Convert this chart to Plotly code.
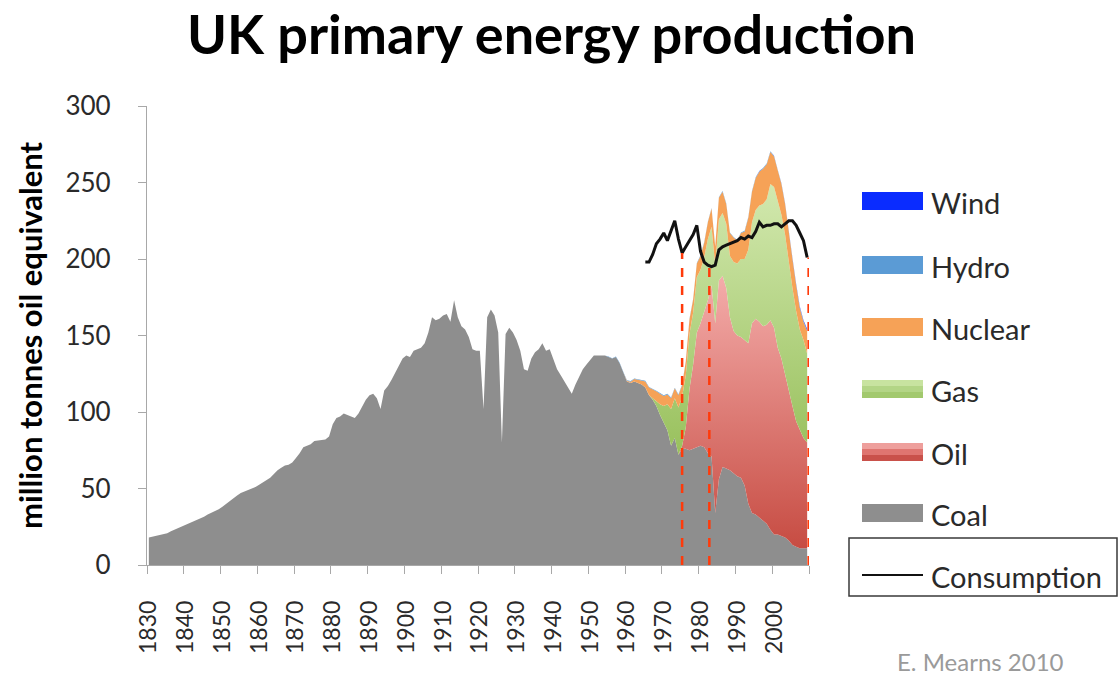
import plotly.graph_objects as go

# ---------------- data ----------------
years = list(range(1830, 2010))

coal = [
    18, 18.5, 19, 19.5, 20, 20.7, 22, 23, 24, 25.5,            # 1830s
    26.5, 27, 28, 29, 30.5, 31.5, 33, 34, 35, 36.5,            # 1840s
    38, 40, 41.5, 43.5, 45.5, 47, 48, 48.5, 50, 51,            # 1850s
    52.5, 54, 55, 57, 59.5, 62, 63.5, 65, 65.5, 67,            # 1860s
    70, 73, 77, 78, 79, 81, 81.5, 82, 82, 84,                  # 1870s
    92, 96, 97, 99, 98, 97, 96, 99, 104, 108,                  # 1880s
    111, 112, 109, 102, 114, 117, 121, 126, 130, 135,          # 1890s
    137, 136, 140, 141, 142, 145, 152, 162, 160, 161,          # 1900s
    163, 164, 159, 173, 162, 156, 154, 149, 141, 140,          # 1910s
    140, 102, 162, 167, 163, 152, 80, 151, 155, 152,           # 1920s
    147, 140, 128, 127, 135, 139, 141, 145, 140, 141,          # 1930s
    134, 128, 124, 120, 116, 112, 118, 123, 128, 131,          # 1940s
    134, 137, 137, 137, 137, 136, 135, 136, 132, 126,          # 1950s
    120, 119, 120, 119, 118, 116, 111, 108, 104, 98,           # 1960s
    93, 88, 78, 83, 72, 76, 76, 75, 76, 77,                    # 1970s
    78, 77, 73, 71, 34, 56, 64, 63, 62, 60,                    # 1980s
    58, 57, 52, 40, 34, 33, 31, 29, 27, 23,                    # 1990s
    20, 20, 19, 18, 16, 13, 12, 11, 11, 11,                    # 2000s
]

oil_years = list(range(1975, 2010))
oil = [2, 14, 40, 55, 75, 80, 88, 100, 112, 124,
       130, 125, 118, 100, 93, 92, 92, 95, 105, 124,
       128, 128, 127, 130, 137, 135, 122, 116, 106, 97,
       91, 82, 77, 72, 69]

gas_years = list(range(1967, 2010))
gas = [1, 3, 7, 11, 17, 24, 26, 31, 32, 34,
       36, 34, 36, 35, 36, 40, 38, 38, 40, 41,
       42, 40, 45, 47, 51, 53, 61, 66, 71, 76,
       80, 82, 89, 92, 95, 94, 92, 85, 77, 72,
       66, 64, 58]

nuclear_years = list(range(1960, 2010))
nuclear = [0.5, 0.8, 1.5, 2, 2.5, 4, 5, 6, 6.5, 7,
           6.5, 6.5, 7, 6.5, 8, 7.5, 9, 9.5, 8.5, 9,
           9, 9.5, 11, 12, 12, 14, 14, 13, 15, 16,
           15, 17, 18, 21, 20, 21, 22, 23, 23, 21,
           20, 21, 20, 20, 18, 19, 17, 14, 12, 15]

hydro_years = list(range(1955, 2010))
hydro = [0.2, 0.2, 0.3, 0.3, 0.3,
         0.3, 0.4, 0.4, 0.4, 0.4, 0.4, 0.4, 0.4, 0.4, 0.4,
         0.4, 0.4, 0.4, 0.4, 0.4, 0.4, 0.4, 0.4, 0.4, 0.4,
         0.4, 0.4, 0.4, 0.4, 0.4, 0.4, 0.4, 0.4, 0.4, 0.4,
         0.4, 0.4, 0.4, 0.4, 0.4, 0.4, 0.4, 0.4, 0.4, 0.4,
         0.4, 0.3, 0.4, 0.3, 0.4, 0.4, 0.4, 0.4, 0.4, 0.4]

wind_years = list(range(1990, 2010))
wind = [0.0, 0.0, 0.0, 0.0, 0.1, 0.1, 0.1, 0.1, 0.1, 0.1,
        0.1, 0.1, 0.1, 0.1, 0.2, 0.3, 0.4, 0.5, 0.6, 0.8]

cons_years = list(range(1965, 2010))
consumption = [198, 198, 203, 210, 213, 217, 212, 218, 225, 213,
               204, 208, 212, 216, 222, 205, 198, 196, 195, 196,
               206, 208, 209, 210, 211, 212, 214, 213, 215, 214,
               218, 224, 221, 222, 222, 223, 223, 221, 223, 225,
               225, 222, 217, 212, 201]

marker_years = [1975, 1982.4, 2009.4]
marker_tops = [204, 196, 201]

label_years = list(range(1830, 2001, 10))
boundary_ticks = [y - 0.5 for y in range(1830, 2011, 10)]
y_ticks = [0, 50, 100, 150, 200, 250, 300]

legend_names = ["Wind", "Hydro", "Nuclear", "Gas", "Oil", "Coal"]
legend_colors = ["#0a2cff", "#5b9bd5", "#f6a257", "#a9cf74", "#e07a74", "#8e8e8e"]

# ---------------- figure ----------------
FONT = "Lato"
fig = go.Figure()

fig.add_trace(go.Scatter(x=years, y=coal, stackgroup="prod", mode="lines",
                         line=dict(width=0), fillcolor="#8e8e8e", name="Coal",
                         showlegend=False))
fig.add_trace(go.Scatter(x=oil_years, y=oil, stackgroup="prod", mode="lines",
                         line=dict(width=0), name="Oil", showlegend=False,
                         fillgradient=dict(type="vertical", start=0, stop=190,
                                           colorscale=[[0, "#c4463c"], [1, "#f4adab"]])))
fig.add_trace(go.Scatter(x=gas_years, y=gas, stackgroup="prod", mode="lines",
                         line=dict(width=0), name="Gas", showlegend=False,
                         fillgradient=dict(type="vertical", start=70, stop=260,
                                           colorscale=[[0, "#98c05c"], [1, "#d6ebb4"]])))
fig.add_trace(go.Scatter(x=nuclear_years, y=nuclear, stackgroup="prod", mode="lines",
                         line=dict(width=0), fillcolor="#f6a257", name="Nuclear",
                         showlegend=False))
fig.add_trace(go.Scatter(x=hydro_years, y=hydro, stackgroup="prod", mode="lines",
                         line=dict(width=0), fillcolor="#5b9bd5", name="Hydro",
                         showlegend=False))
fig.add_trace(go.Scatter(x=wind_years, y=wind, stackgroup="prod", mode="lines",
                         line=dict(width=0), fillcolor="#0a2cff", name="Wind",
                         showlegend=False))
fig.add_trace(go.Scatter(x=cons_years, y=consumption, mode="lines",
                         line=dict(color="#111111", width=3), name="Consumption",
                         showlegend=False))

# red dashed markers
for yr, top in zip(marker_years, marker_tops):
    fig.add_shape(type="line", xref="x", yref="y", x0=yr, x1=yr, y0=0, y1=top,
                  line=dict(color="#ff3a0a", width=2.5, dash="dash"))

# ---------------- layout ----------------
L, R, T, B = 147, 809, 106, 565
W, H = 1120, 675


def px_x(px):
    return (px - L) / (R - L)


def px_y(py):
    return (B - py) / (B - T)


fig.update_layout(
    width=W, height=H,
    margin=dict(l=L, r=W - R, t=T, b=H - B),
    paper_bgcolor="white", plot_bgcolor="white",
    font=dict(family=FONT, color="#2a2a2a"),
    showlegend=False,
    xaxis=dict(range=[1829.5, 2009.5], tickmode="array", tickvals=boundary_ticks,
               showticklabels=False, ticks="outside", ticklen=8, tickcolor="#a8a8a8",
               showline=True, linecolor="#a8a8a8", linewidth=1.2, showgrid=False,
               zeroline=False),
    xaxis2=dict(range=[1829.5, 2009.5], overlaying="x", anchor="y", side="bottom",
                tickmode="array", tickvals=label_years,
                ticktext=[str(v) for v in label_years], tickangle=-90,
                ticks="", showline=False, showgrid=False, zeroline=False,
                ticklabelstandoff=30, tickfont=dict(size=23, family=FONT, color="#2a2a2a")),
    yaxis=dict(range=[0, 300], tickmode="array", tickvals=y_ticks,
               ticks="outside", ticklen=8, tickcolor="#a8a8a8",
               showline=True, linecolor="#a8a8a8", linewidth=1.2, showgrid=False,
               zeroline=False, ticklabelstandoff=22,
               tickfont=dict(size=26, family=FONT, color="#2a2a2a")),
)
# invisible trace so xaxis2 (year labels) is rendered
fig.add_trace(go.Scatter(x=[label_years[0]], y=[0], xaxis="x2", mode="markers",
                         marker=dict(opacity=0), showlegend=False, hoverinfo="skip"))

annotations = [
    dict(text="<b>UK primary energy production</b>", xref="paper", yref="paper",
         x=px_x(551), y=px_y(34), xanchor="center", yanchor="middle", showarrow=False,
         font=dict(size=54, family=FONT, color="#000000")),
    dict(text="<b>million tonnes oil equivalent</b>", xref="paper", yref="paper",
         x=px_x(30), y=px_y(335), xanchor="center", yanchor="middle", textangle=-90,
         showarrow=False, font=dict(size=31, family=FONT, color="#000000")),
    dict(text="E. Mearns 2010", xref="paper", yref="paper",
         x=px_x(980), y=px_y(661), xanchor="center", yanchor="middle", showarrow=False,
         font=dict(size=24, family=FONT, color="#9a9a9a")),
]

shapes = []
legend_y = [201, 265, 327, 389, 452, 513]
for name, col, cy in zip(legend_names, legend_colors, legend_y):
    if name == "Oil":
        bands = ["#ee9f9c", "#df7570", "#c9514a"]
    elif name == "Gas":
        bands = ["#c8e3a0", "#b3d586", "#a2c96e"]
    else:
        bands = [col, col, col]
    top = cy - 9
    for i, bc in enumerate(bands):
        shapes.append(dict(type="rect", xref="paper", yref="paper",
                           x0=px_x(862), x1=px_x(923),
                           y0=px_y(top + 6 * (i + 1)), y1=px_y(top + 6 * i),
                           fillcolor=bc, line=dict(width=0), layer="above"))
    annotations.append(dict(text=name, xref="paper", yref="paper", x=px_x(929),
                            y=px_y(cy + 1), xanchor="left", yanchor="middle",
                            showarrow=False,
                            font=dict(size=29, family=FONT, color="#2a2a2a")))

# consumption legend entry with box
shapes.append(dict(type="rect", xref="paper", yref="paper",
                   x0=px_x(849), x1=px_x(1117), y0=px_y(596), y1=px_y(538),
                   line=dict(color="#3a3a3a", width=1.5), fillcolor="rgba(0,0,0,0)"))
shapes.append(dict(type="line", xref="paper", yref="paper",
                   x0=px_x(862), x1=px_x(923), y0=px_y(575), y1=px_y(575),
                   line=dict(color="#111111", width=2)))
annotations.append(dict(text="Consumption", xref="paper", yref="paper", x=px_x(929),
                        y=px_y(576), xanchor="left", yanchor="middle", showarrow=False,
                        font=dict(size=29, family=FONT, color="#2a2a2a")))

for s in shapes:
    fig.add_shape(**s)
fig.update_layout(annotations=annotations)

fig.write_html("out.html", config={"displayModeBar": False},
               post_script="document.body.style.margin='0px';")
